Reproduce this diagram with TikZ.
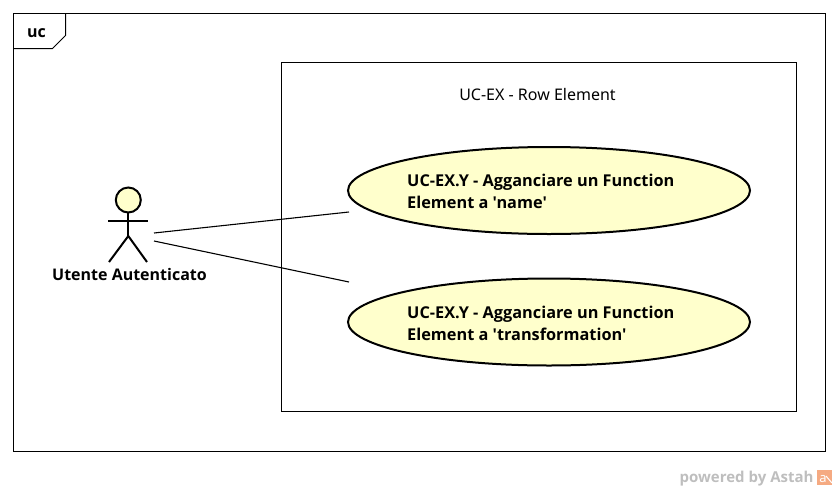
\documentclass[tikz,border=0pt]{standalone}
\usepackage{fontspec}
\setmainfont{Noto Sans}[Ligatures=TeXOff]
\newfontfamily\labelfont{Open Sans}[Ligatures=TeXOff]
\usetikzlibrary{shapes.geometric}
\definecolor{usecasefill}{RGB}{255,255,204}
\definecolor{astahgray}{RGB}{190,190,190}
\definecolor{astahorange}{RGB}{245,170,130}
\tikzset{
    frameline/.style={draw=black, line width=1pt},
    usecase/.style={ellipse, draw=black, fill=usecasefill, line width=2pt, minimum width=402pt, minimum height=87pt, inner sep=0pt},
    usecasetext/.style={font=\labelfont\bfseries\fontsize{16.3}{21.5}\selectfont, align=left, inner sep=0pt, anchor=north west},
    actorline/.style={line width=2pt, draw=black},
    assoc/.style={draw=black, line width=1.1pt}
}
\begin{document}
\begin{tikzpicture}[x=1pt, y=-1pt]
    \useasboundingbox (0,0) rectangle (837,490);

    % Coordinates
    \coordinate (head) at (128.3,200);
    \coordinate (neck) at (128.3,213);
    \coordinate (hip) at (128.3,236);
    \coordinate (actorA) at (154,233);
    \coordinate (actorB) at (154,241);
    \coordinate (caseA) at (349,212);
    \coordinate (caseB) at (349,282);

    % Frame
    \draw[frameline] (13.5,13.5) rectangle (825.5,451.5);
    \draw[frameline] (13.5,48.5) -- (52.5,48.5) -- (65.5,35.5) -- (65.5,13.5);
    \node[font=\labelfont\bfseries\fontsize{16}{18}\selectfont] (tag) at (36.5,33) {uc};

    % System
    \draw[frameline] (281.5,62.5) rectangle (796.5,411.5);
    \node[font=\fontsize{16}{18}\selectfont] (title) at (537.5,94) {UC-EX - Row Element};

    % Use cases
    \node[usecase] (caseName) at (549,190.5) {};
    \node[usecasetext] (textName) at (407,174) {UC-EX.Y - Agganciare un Function\\Element a 'name'};
    \node[usecase] (caseTrans) at (549,322) {};
    \node[usecasetext] (textTrans) at (407,306) {UC-EX.Y - Agganciare un Function\\Element a 'transformation'};

    % Actor
    \draw[actorline, fill=usecasefill] (head) circle (12.5);
    \draw[actorline] (neck) -- (hip);
    \draw[actorline] (108,221) -- (148,221);
    \draw[actorline] (109,262) -- (hip) -- (147,262);
    \node[font=\labelfont\bfseries\fontsize{16}{18}\selectfont] (actor) at (129.5,274) {Utente Autenticato};

    % Lines
    \draw[assoc] (actorA) -- (caseA);
    \draw[assoc] (actorB) -- (caseB);

    % Logo
    \node[font=\labelfont\bfseries\fontsize{15}{17}\selectfont, text=astahgray, anchor=east] (powered) at (817,479) {powered by Astah};
    \fill[astahorange] (817,470) rectangle (832,485);
    \node[font=\fontsize{13}{13}\selectfont, text=white, inner sep=0pt] (logo) at (823,479) {a};
    \draw[white, line width=1pt] (826,476) -- (832,483);
\end{tikzpicture}
\end{document}
